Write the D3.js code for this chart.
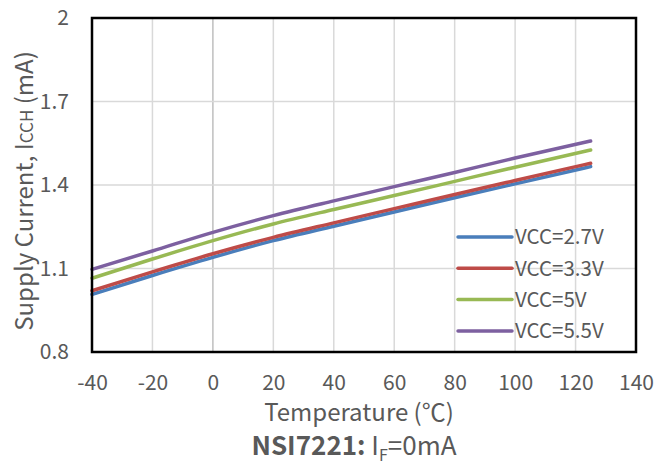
<!DOCTYPE html>
<html>
<head>
<meta charset="utf-8">
<script src="https://cdn.jsdelivr.net/npm/d3@7"></script>
<style>
  body { margin: 0; background: #fff; }
  svg { font-family: "Noto Sans CJK SC", "Noto Sans", sans-serif; }
</style>
</head>
<body>
<div id="chart"></div>
<script>
const temps = [-40, -20, 0, 20, 40, 60, 80, 100, 125];
const vcc27 = [1.007, 1.075, 1.140, 1.200, 1.252, 1.303, 1.354, 1.404, 1.466];
const vcc33 = [1.020, 1.088, 1.153, 1.212, 1.264, 1.315, 1.366, 1.416, 1.478];
const vcc50 = [1.065, 1.134, 1.200, 1.260, 1.312, 1.362, 1.413, 1.464, 1.526];
const vcc55 = [1.097, 1.163, 1.230, 1.290, 1.343, 1.394, 1.445, 1.497, 1.558];
const seriesNames = ["VCC=2.7V", "VCC=3.3V", "VCC=5V", "VCC=5.5V"];
const colors = ["#4a7ebb", "#be4b48", "#98b954", "#7d60a0"];
const xTicks = [-40, -20, 0, 20, 40, 60, 80, 100, 120, 140];
const yTicks = [0.8, 1.1, 1.4, 1.7, 2];

const width = 670, height = 465;
const plotL = 92, plotR = 636, plotT = 18, plotB = 352;
const textColor = "#595959";

const svg = d3.select("#chart").append("svg")
  .attr("width", width).attr("height", height);

const x = d3.scaleLinear().domain([-40, 140]).range([plotL, plotR]);
const y = d3.scaleLinear().domain([0.8, 2]).range([plotB, plotT]);

// gridlines
const grid = svg.append("g");
grid.selectAll(".vg").data(xTicks.slice(1, -1)).enter().append("line")
  .attr("x1", d => x(d)).attr("x2", d => x(d))
  .attr("y1", plotT).attr("y2", plotB)
  .attr("stroke", d => d === 0 ? "#bfbfbf" : "#d9d9d9")
  .attr("stroke-width", 1.5);
grid.selectAll(".hg").data(yTicks.slice(1, -1)).enter().append("line")
  .attr("x1", plotL).attr("x2", plotR)
  .attr("y1", d => y(d)).attr("y2", d => y(d))
  .attr("stroke", "#d9d9d9")
  .attr("stroke-width", 1.5);

// axes (labels only)
const xAxis = svg.append("g")
  .attr("transform", `translate(0,${plotB})`)
  .call(d3.axisBottom(x).tickValues(xTicks).tickSize(0).tickPadding(23)
    .tickFormat(d => String(d)));
const yAxis = svg.append("g")
  .attr("transform", `translate(${plotL},0)`)
  .call(d3.axisLeft(y).tickValues(yTicks).tickSize(0).tickPadding(23)
    .tickFormat(d => String(d)));
[xAxis, yAxis].forEach(a => {
  a.select(".domain").remove();
  a.selectAll("text").attr("fill", textColor).attr("font-size", 21)
    .attr("font-family", "'Noto Sans CJK SC', 'Noto Sans', sans-serif");
});

// series
const allSeries = [vcc27, vcc33, vcc50, vcc55];
const line = d3.line()
  .x((d, i) => x(temps[i]))
  .y(d => y(d))
  .curve(d3.curveMonotoneX);
svg.append("g").selectAll("path").data(allSeries).enter().append("path")
  .attr("d", line)
  .attr("fill", "none")
  .attr("stroke", (d, i) => colors[i])
  .attr("stroke-width", 3.5)
  .attr("stroke-linecap", "round");

// plot border
svg.append("rect")
  .attr("x", plotL).attr("y", plotT)
  .attr("width", plotR - plotL).attr("height", plotB - plotT)
  .attr("fill", "none").attr("stroke", "#000").attr("stroke-width", 2.5);

// legend
const legend = svg.append("g");
const rows = legend.selectAll("g").data(seriesNames).enter().append("g")
  .attr("transform", (d, i) => `translate(458,${237 + i * 31.3})`);
rows.append("line")
  .attr("x1", 0).attr("x2", 54).attr("y1", 0).attr("y2", 0)
  .attr("stroke", (d, i) => colors[i])
  .attr("stroke-width", 3.5).attr("stroke-linecap", "round");
rows.append("text")
  .attr("x", 57).attr("y", 0).attr("dy", "0.36em")
  .attr("fill", textColor).attr("font-size", 20.5)
  .text(d => d);

// y title
const yt = svg.append("text")
  .attr("transform", "translate(33,191) rotate(-90)")
  .attr("text-anchor", "middle")
  .attr("fill", textColor).attr("font-size", 24);
yt.append("tspan").text("Supply Current, I");
yt.append("tspan").attr("font-size", 17).text("CCH");
yt.append("tspan").text(" (mA)");

// x title
svg.append("text")
  .attr("x", 359).attr("y", 421)
  .attr("text-anchor", "middle")
  .attr("fill", textColor).attr("font-size", 24)
  .text("Temperature (℃)");

// chart caption
const cap = svg.append("text")
  .attr("x", 354).attr("y", 455)
  .attr("text-anchor", "middle")
  .attr("fill", textColor).attr("font-size", 26);
cap.append("tspan").attr("font-weight", "bold").text("NSI7221:");
cap.append("tspan").text(" I");
cap.append("tspan").attr("font-size", 16).attr("dy", 6).text("F");
cap.append("tspan").attr("dy", -6).text("=0mA");
</script>
</body>
</html>
